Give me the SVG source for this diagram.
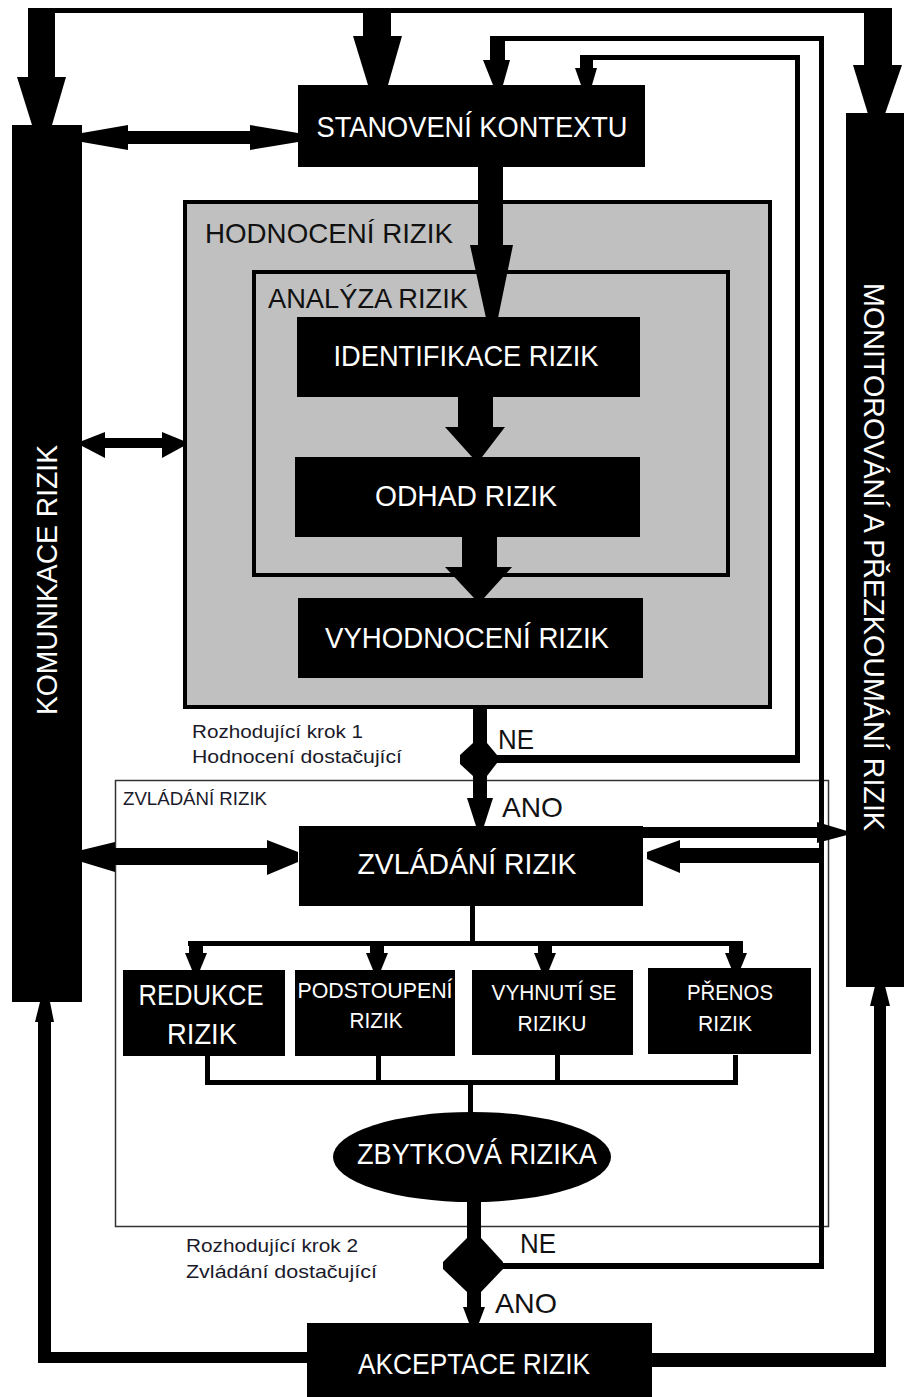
<svg xmlns="http://www.w3.org/2000/svg" width="904" height="1397" viewBox="0 0 904 1397">
<style>
.blk{fill:#000}
.wt{fill:#fff;font-family:"Liberation Sans",Arial,sans-serif;text-anchor:middle}
.lbl{fill:#111;font-family:"Liberation Sans",Arial,sans-serif}
.sm{fill:#1a1a2a;font-family:"Liberation Sans",Arial,sans-serif;font-size:18.5px}
</style>
<rect width="904" height="1397" fill="#fff"/>

<g id="hodnoceni-rizik">
<rect x="185" y="202" width="585" height="505" fill="#c0c0c0" stroke="#000" stroke-width="4"/>
<text class="lbl" x="205" y="243" font-size="28" textLength="248" lengthAdjust="spacingAndGlyphs">HODNOCENÍ RIZIK</text>
</g>
<g id="analyza-rizik">
<rect x="254" y="272" width="474" height="303" fill="none" stroke="#000" stroke-width="4"/>
<text class="lbl" x="268" y="308" font-size="28" textLength="200" lengthAdjust="spacingAndGlyphs">ANALÝZA RIZIK</text>
</g>
<g id="zvladani-frame">
<rect x="115.5" y="780.5" width="713" height="446" fill="none" stroke="#333" stroke-width="1.5"/>
<text class="sm" x="123" y="805" textLength="144" lengthAdjust="spacingAndGlyphs">ZVLÁDÁNÍ RIZIK</text>
</g>

<g id="connectors" class="blk">
<rect x="28" y="8" width="864" height="5"/>
<rect x="28" y="8" width="27" height="70"/>
<polygon points="17,77 66,77 52,125 32,125"/>
<rect x="363" y="8" width="28" height="30"/>
<polygon points="353,36 402,36 388,85 368,85"/>
<rect x="864" y="8" width="28" height="58"/>
<polygon points="853,65 902,65 885,114 868,114"/>
<rect x="490" y="36" width="334" height="5"/>
<rect x="819" y="36" width="5" height="1233"/>
<rect x="490" y="36" width="15" height="25"/>
<polygon points="483,60 510,60 503,85 493,85"/>
<rect x="500" y="1263" width="324" height="6"/>
<rect x="580" y="55" width="220" height="5"/>
<rect x="795" y="55" width="5" height="708"/>
<rect x="580" y="55" width="13" height="14"/>
<polygon points="575,68 597,68 592,85 581,85"/>
<rect x="487" y="755" width="313" height="8"/>
<rect x="127" y="131" width="124" height="13"/>
<polygon points="82,133 128,125 128,150 82,142"/>
<polygon points="250,125 298,133 298,142 250,150"/>
<rect x="104" y="438" width="59" height="10"/>
<polygon points="82,441 105,432 105,458 82,446"/>
<polygon points="162,432 184,441 184,446 162,458"/>
<rect x="114" y="848" width="154" height="17"/>
<polygon points="82,850 115,842 115,872 82,862"/>
<polygon points="267,840 298,852 298,862 267,875"/>
<rect x="643" y="827" width="175" height="11"/>
<polygon points="817,822 847,831 847,835 817,843"/>
<rect x="679" y="848" width="143" height="15"/>
<polygon points="680,840 647,852 647,859 680,873"/>
<rect x="478" y="166" width="25" height="80"/>
<polygon points="470,245 513,245 498,318 486,318"/>
<rect x="458" y="396" width="35" height="32"/>
<polygon points="445,427 505,427 482,457 472,457"/>
<rect x="462" y="536" width="35" height="32"/>
<polygon points="445,567 512,567 484,598 474,598"/>
<rect x="473" y="707" width="14" height="92"/>
<polygon points="473,743 487,743 497,755 497,763 487,776 473,776 460,764 460,755"/>
<polygon points="467,798 493,798 484,826 476,826"/>
<rect x="470" y="905" width="5" height="40"/>
<rect x="188" y="941" width="555" height="5"/>
<rect x="189" y="941" width="14" height="13"/><polygon points="185,953 207,953 200,970 192,970"/>
<rect x="370" y="941" width="14" height="13"/><polygon points="366,953 388,953 381,970 373,970"/>
<rect x="538" y="941" width="14" height="13"/><polygon points="534,953 556,953 549,970 541,970"/>
<rect x="729" y="941" width="14" height="13"/><polygon points="725,953 747,953 740,970 732,970"/>
<rect x="205" y="1055" width="5" height="30"/>
<rect x="376" y="1055" width="5" height="30"/>
<rect x="555" y="1055" width="5" height="30"/>
<rect x="733" y="1055" width="5" height="30"/>
<rect x="205" y="1080" width="533" height="5"/>
<rect x="468" y="1080" width="5" height="33"/>
<rect x="467" y="1200" width="14" height="108"/>
<polygon points="467,1238 481,1238 503,1262 503,1269 481,1292 467,1292 443,1269 443,1262"/>
<polygon points="463,1307 485,1307 479,1323 469,1323"/>
<rect x="38" y="1352" width="270" height="11"/>
<rect x="38" y="1020" width="13" height="343"/>
<polygon points="35,1022 54,1022 50,1002 40,1002"/>
<rect x="650" y="1353" width="236" height="14"/>
<rect x="874" y="1004" width="12" height="363"/>
<polygon points="870,1006 890,1006 885,986 875,986"/>
</g>

<g id="komunikace-rizik">
<rect x="12" y="125" width="70" height="877" class="blk"/>
<text class="wt" font-size="29" textLength="270" lengthAdjust="spacingAndGlyphs" transform="translate(57,580) rotate(-90)">KOMUNIKACE RIZIK</text>
</g>
<g id="monitorovani">
<rect x="846" y="113" width="58" height="874" class="blk"/>
<text class="wt" font-size="29" textLength="548" lengthAdjust="spacingAndGlyphs" transform="translate(864,557) rotate(90)">MONITOROVÁNÍ A PŘEZKOUMÁNÍ RIZIK</text>
</g>
<g id="stanoveni-kontextu">
<rect x="298" y="85" width="347" height="82" class="blk"/>
<text class="wt" x="472" y="137" font-size="30" textLength="311" lengthAdjust="spacingAndGlyphs">STANOVENÍ KONTEXTU</text>
</g>
<g id="identifikace-rizik">
<rect x="297" y="317" width="343" height="80" class="blk"/>
<text class="wt" x="466" y="366" font-size="30" textLength="265" lengthAdjust="spacingAndGlyphs">IDENTIFIKACE RIZIK</text>
</g>
<g id="odhad-rizik">
<rect x="295" y="457" width="345" height="80" class="blk"/>
<text class="wt" x="466" y="506" font-size="30" textLength="182" lengthAdjust="spacingAndGlyphs">ODHAD RIZIK</text>
</g>
<g id="vyhodnoceni-rizik">
<rect x="298" y="598" width="345" height="80" class="blk"/>
<text class="wt" x="467" y="648" font-size="30" textLength="284" lengthAdjust="spacingAndGlyphs">VYHODNOCENÍ RIZIK</text>
</g>
<g id="rozhodnuti-1">
<text class="sm" x="192" y="738" textLength="171" lengthAdjust="spacingAndGlyphs">Rozhodující krok 1</text>
<text class="sm" x="192" y="763" textLength="210" lengthAdjust="spacingAndGlyphs">Hodnocení dostačující</text>
<text class="lbl" x="498" y="749" font-size="28" textLength="36" lengthAdjust="spacingAndGlyphs">NE</text>
<text class="lbl" x="502" y="817" font-size="28" textLength="61" lengthAdjust="spacingAndGlyphs">ANO</text>
</g>
<g id="zvladani-rizik">
<rect x="299" y="826" width="344" height="80" class="blk"/>
<text class="wt" x="467" y="874" font-size="30" textLength="219" lengthAdjust="spacingAndGlyphs">ZVLÁDÁNÍ RIZIK</text>
</g>
<g id="redukce-rizik">
<rect x="123" y="970" width="162" height="86" class="blk"/>
<text class="wt" x="201" y="1005" font-size="30" textLength="125" lengthAdjust="spacingAndGlyphs">REDUKCE</text>
<text class="wt" x="202" y="1044" font-size="30" textLength="70" lengthAdjust="spacingAndGlyphs">RIZIK</text>
</g>
<g id="podstoupeni-rizik">
<rect x="295" y="970" width="160" height="86" class="blk"/>
<text class="wt" x="375" y="998" font-size="22" textLength="155" lengthAdjust="spacingAndGlyphs">PODSTOUPENÍ</text>
<text class="wt" x="376" y="1028" font-size="22" textLength="53" lengthAdjust="spacingAndGlyphs">RIZIK</text>
</g>
<g id="vyhnuti-se-riziku">
<rect x="472" y="970" width="161" height="85" class="blk"/>
<text class="wt" x="554" y="1000" font-size="22" textLength="125" lengthAdjust="spacingAndGlyphs">VYHNUTÍ SE</text>
<text class="wt" x="552" y="1031" font-size="22" textLength="69" lengthAdjust="spacingAndGlyphs">RIZIKU</text>
</g>
<g id="prenos-rizik">
<rect x="648" y="968" width="163" height="86" class="blk"/>
<text class="wt" x="730" y="1000" font-size="22" textLength="86" lengthAdjust="spacingAndGlyphs">PŘENOS</text>
<text class="wt" x="725" y="1031" font-size="22" textLength="54" lengthAdjust="spacingAndGlyphs">RIZIK</text>
</g>
<g id="zbytkova-rizika">
<ellipse cx="472" cy="1157" rx="139" ry="45" class="blk"/>
<text class="wt" x="477" y="1164" font-size="30" textLength="240" lengthAdjust="spacingAndGlyphs">ZBYTKOVÁ RIZIKA</text>
</g>
<g id="rozhodnuti-2">
<text class="sm" x="186" y="1252" textLength="172" lengthAdjust="spacingAndGlyphs">Rozhodující krok 2</text>
<text class="sm" x="186" y="1278" textLength="191" lengthAdjust="spacingAndGlyphs">Zvládání dostačující</text>
<text class="lbl" x="520" y="1253" font-size="28" textLength="36" lengthAdjust="spacingAndGlyphs">NE</text>
<text class="lbl" x="495" y="1313" font-size="28" textLength="62" lengthAdjust="spacingAndGlyphs">ANO</text>
</g>
<g id="akceptace-rizik">
<rect x="307" y="1323" width="345" height="80" class="blk"/>
<text class="wt" x="474" y="1374" font-size="30" textLength="232" lengthAdjust="spacingAndGlyphs">AKCEPTACE RIZIK</text>
</g>
</svg>
